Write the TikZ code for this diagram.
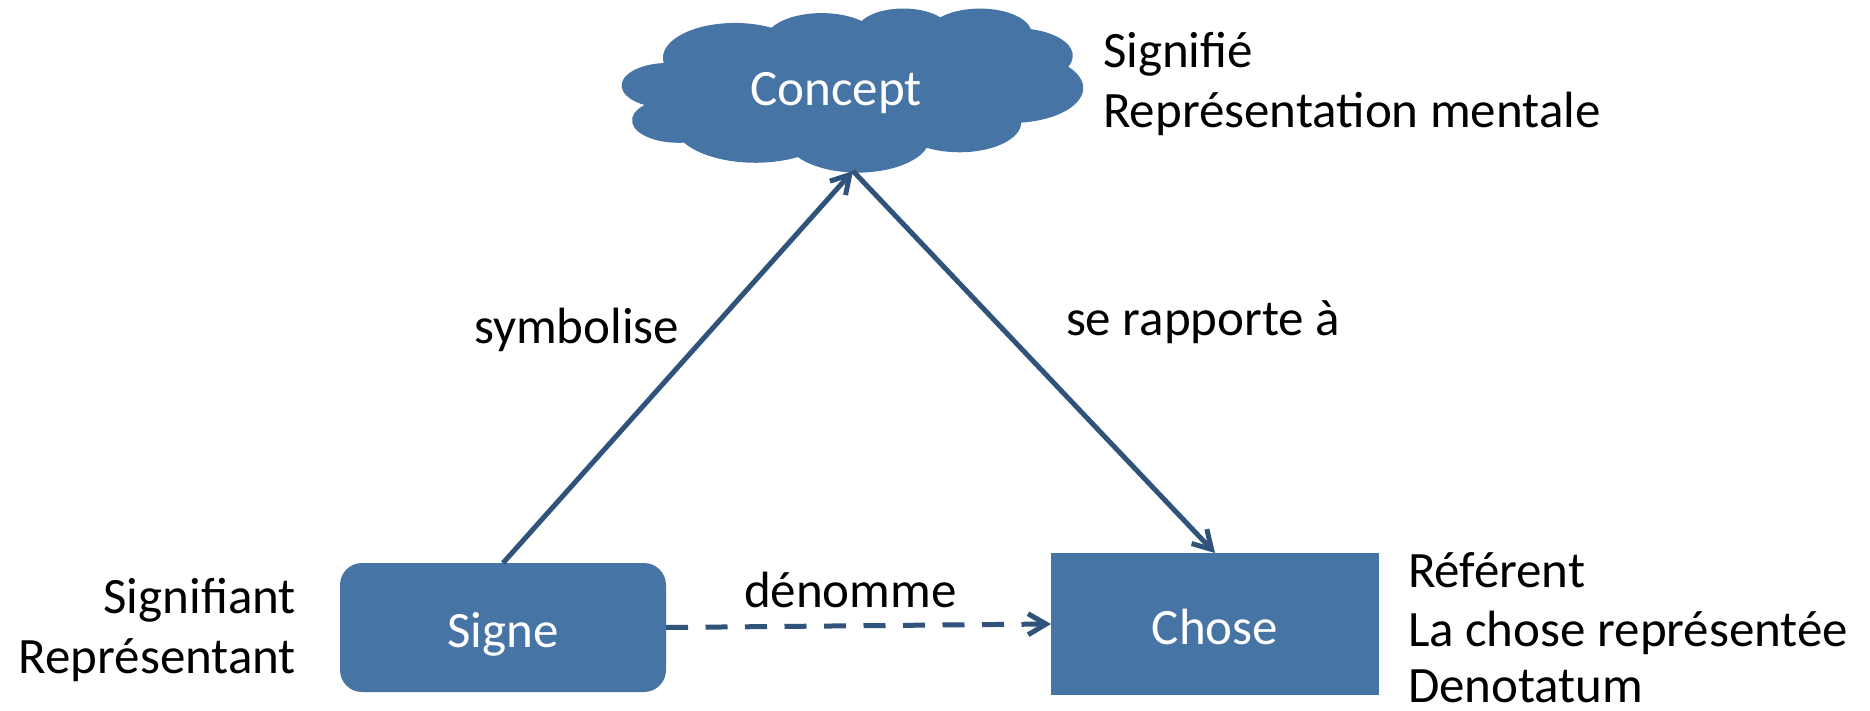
\documentclass[tikz,border=0pt]{standalone}
\usepackage{fontspec}
\setmainfont{Carlito}
\usetikzlibrary{arrows.meta}

\definecolor{boxblue}{RGB}{70,116,165}
\definecolor{linkblue}{RGB}{47,83,122}

% Cloud outline size (pt) and one of its arcs:
% #1 style name, #2/#3 radii and #4/#5 start/sweep angles in the 43200-unit
% shape space (angles seen from the ellipse centre, clockwise, y down).
\def\cloudW{461}
\def\cloudH{164}
\newcommand\cloudseg[5]{%
  \pgfmathsetmacro\cldA{atan2(#2/10000*sin(#4),#3/10000*cos(#4))}%
  \pgfmathsetmacro\cldB{atan2(#2/10000*sin(#4+#5),#3/10000*cos(#4+#5))}%
  \pgfmathsetmacro\cldB{\cldB<\cldA ? \cldB+360 : \cldB}%
  \pgfmathsetmacro\cldS{-\cldA}%
  \pgfmathsetmacro\cldE{-\cldB}%
  \pgfmathsetmacro\cldX{#2/4320*\cloudW/10}%
  \pgfmathsetmacro\cldY{#3/4320*\cloudH/10}%
  \tikzset{#1/.style/.expanded={start angle=\cldS, end angle=\cldE,
      x radius=\cldX pt, y radius=\cldY pt}}%
}

\tikzset{
  big/.style={font=\fontsize{51}{61}\selectfont},
  box/.style={big, fill=boxblue, draw=none, text=white, inner sep=0pt,
    outer sep=0pt, text height=40pt, text depth=0pt},
  label/.style={big, inner sep=0pt, outer sep=0pt},
  link/.style={draw=linkblue, line width=5pt,
    -{Straight Barb[length=18pt,width=21pt]}},
}

\begin{document}
\begin{tikzpicture}[x=1pt, y=-1pt]
  \useasboundingbox (0,0) rectangle (1870,711);

  % cloud arcs
  \cloudseg{cA}{6753}{9190}{-190.4875}{123.7805}
  \cloudseg{cB}{5333}{7267}{-144.1024}{89.9452}
  \cloudseg{cC}{4365}{5945}{-145.8079}{99.7230}
  \cloudseg{cD}{4857}{6595}{-130.9861}{117.2417}
  \cloudseg{cE}{5333}{7273}{-78.7089}{109.0269}
  \cloudseg{cF}{6775}{9220}{-46.2673}{130.2690}
  \cloudseg{cG}{5785}{7867}{0.6250}{114.0333}
  \cloudseg{cH}{6752}{9215}{22.4516}{115.1726}
  \cloudseg{cI}{7720}{10543}{66.2426}{75.7110}
  \cloudseg{cJ}{4360}{5918}{-274.9421}{146.7356}
  \cloudseg{cK}{4345}{5945}{-246.8285}{152.5189}

  \fill[boxblue] (663.62,62.55)
    arc[cA] arc[cB] arc[cC] arc[cD] arc[cE] arc[cF]
    arc[cG] arc[cH] arc[cI] arc[cJ] arc[cK] -- cycle;

  \node[box, fill=none] (concept) at (836,86) {Concept};
  \coordinate (cloudtip) at (853,171);

  % the sign and the thing
  \node[box, rounded corners=22pt, minimum width=326pt, minimum height=129pt]
    (signe) at (503,627.5) {Signe};
  \node[box, minimum width=328pt, minimum height=142pt]
    (chose) at (1215,624) {Chose};

  % relations
  \draw[link] (signe.north) -- (cloudtip);
  \draw[link] (cloudtip) -- (chose.north);
  \draw[link, dash pattern=on 22pt off 17.5pt] (signe.east) -- (chose.west);

  \node[label, anchor=base west] (lsymb) at (474,343) {symbolise};
  \node[label, anchor=base west] (lrapp) at (1066,335) {se rapporte à};
  \node[label, anchor=base west] (ldeno) at (744,607) {dénomme};

  % side captions
  \node[label, anchor=base west] (signifie) at (1103,68) {Signifié};
  \node[label, anchor=base west] (repment) at (1103,128) {Représentation mentale};

  \node[label, anchor=base east] (signifiant) at (296,613) {Signifiant};
  \node[label, anchor=base east] (represent) at (296,673) {Représentant};

  \node[label, anchor=base west] (referent) at (1408,587) {Référent};
  \node[label, anchor=base west] (chosrep) at (1408,646) {La chose représentée};
  \node[label, anchor=base west] (denot) at (1408,702) {Denotatum};
\end{tikzpicture}
\end{document}
